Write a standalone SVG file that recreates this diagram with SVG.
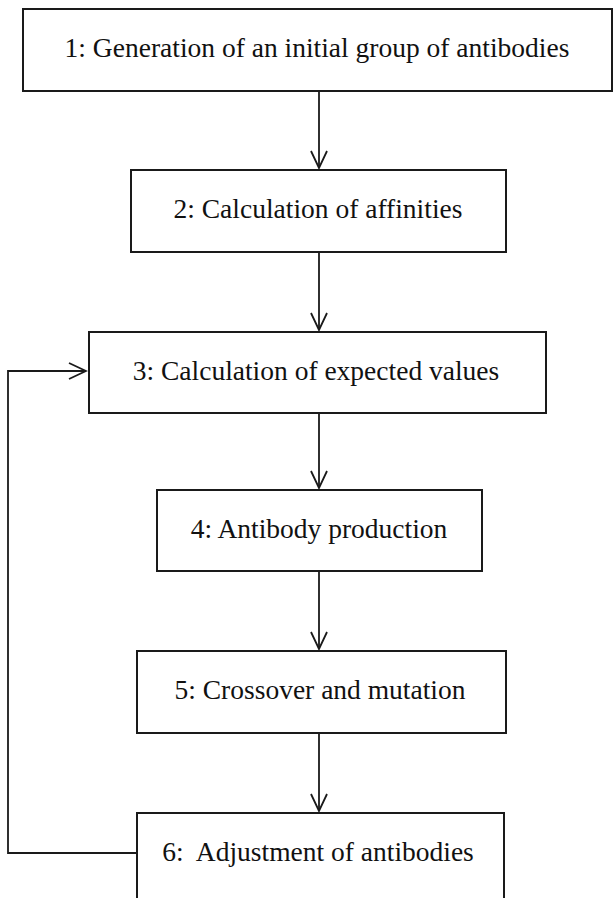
<svg xmlns="http://www.w3.org/2000/svg" width="613" height="898" viewBox="0 0 613 898">
<defs>
<style>
.box{fill:#fff;stroke:#1a1a1a;stroke-width:2}
.lbl{font-family:"Liberation Serif","Times New Roman",serif;font-size:27.5px;fill:#111;text-anchor:middle}
.conn{fill:none;stroke:#1a1a1a;stroke-width:1.8}
</style>
<marker id="arr" markerWidth="20" markerHeight="20" refX="18" refY="9" orient="auto" markerUnits="userSpaceOnUse">
<path d="M1,1 L18,9 L1,17" fill="none" stroke="#1a1a1a" stroke-width="1.8"/>
</marker>
</defs>
<rect width="613" height="898" fill="#fff"/>
<g id="connectors">
<line class="conn" x1="319" y1="91" x2="319" y2="168" marker-end="url(#arr)"/>
<line class="conn" x1="319" y1="252" x2="319" y2="330" marker-end="url(#arr)"/>
<line class="conn" x1="319" y1="413" x2="319" y2="488" marker-end="url(#arr)"/>
<line class="conn" x1="319" y1="571" x2="319" y2="649" marker-end="url(#arr)"/>
<line class="conn" x1="319" y1="733" x2="319" y2="811" marker-end="url(#arr)"/>
<path class="conn" d="M137,853 H8 V371 H86" marker-end="url(#arr)"/>
</g>
<g id="n1">
<rect class="box" x="23" y="9" width="589" height="82"/>
<text class="lbl" x="317" y="57">1: Generation of an initial group of antibodies</text>
</g>
<g id="n2">
<rect class="box" x="131" y="170" width="375" height="82"/>
<text class="lbl" x="318" y="218">2: Calculation of affinities</text>
</g>
<g id="n3">
<rect class="box" x="89" y="332" width="457" height="81"/>
<text class="lbl" x="316" y="380">3: Calculation of expected values</text>
</g>
<g id="n4">
<rect class="box" x="157" y="490" width="325" height="81"/>
<text class="lbl" x="319" y="538">4: Antibody production</text>
</g>
<g id="n5">
<rect class="box" x="137" y="651" width="369" height="82"/>
<text class="lbl" x="320" y="699">5: Crossover and mutation</text>
</g>
<g id="n6">
<rect class="box" x="137" y="813" width="367" height="100"/>
<text class="lbl" x="318" y="861" xml:space="preserve">6:  Adjustment of antibodies</text>
</g>
</svg>
